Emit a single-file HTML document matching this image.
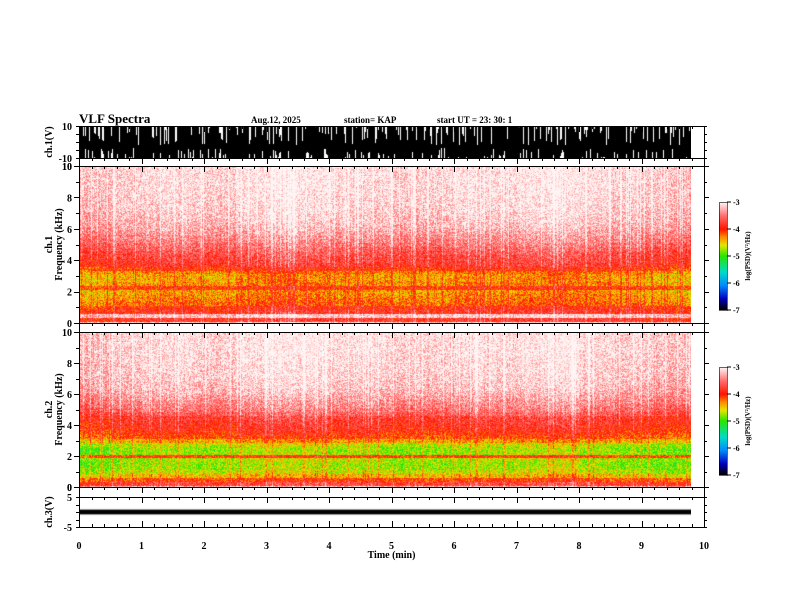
<!DOCTYPE html>
<html><head><meta charset="utf-8"><style>
html,body{margin:0;padding:0;background:#fff;}
#wrap{position:relative;width:792px;height:612px;overflow:hidden;font-family:"Liberation Serif",serif;}
canvas{position:absolute;}
svg{position:absolute;left:0;top:0;}
text{font-family:"Liberation Serif",serif;font-weight:bold;fill:#000;}
</style></head><body>
<div id="wrap">
<canvas id="c1" style="left:79px;top:126px" width="612" height="32"></canvas>
<canvas id="s1" style="left:79px;top:166px" width="612" height="157"></canvas>
<canvas id="s2" style="left:79px;top:332px" width="612" height="155"></canvas>
<canvas id="c3" style="left:79px;top:497px" width="612" height="30"></canvas>
<canvas id="cb1" style="left:719px;top:202px" width="8" height="108"></canvas>
<canvas id="cb2" style="left:719px;top:367px" width="8" height="108"></canvas>
<svg id="ax" width="792" height="612"></svg>
</div>
<script>
// ---- data ----
const timeTicks = [0,1,2,3,4,5,6,7,8,9,10];
const freqTicks = [0,2,4,6,8,10];
const cbTicks = [-3,-4,-5,-6,-7];
const durationMin = 9.8;
// mean log PSD profile per 0.25 kHz bin (0..10 kHz)
const ch1Profile = [-3.2,-3.9,-3.2,-3.9,-4.0,-4.25,-4.3,-4.35,-4.4,-4.05,-4.35,-4.4,-4.4,-4.3,-4.05,-3.85,-3.8,-3.75,-3.7,-3.62,-3.55,-3.48,-3.42,-3.36,-3.3,-3.26,-3.22,-3.2,-3.18,-3.16,-3.15,-3.14,-3.13,-3.12,-3.11,-3.1,-3.1,-3.1,-3.1,-3.1,-3.1];
const ch2Profile = [-3.3,-3.8,-4.15,-4.5,-4.7,-4.8,-4.82,-4.75,-4.1,-4.8,-4.82,-4.7,-4.4,-4.15,-4.05,-3.95,-3.9,-3.85,-3.8,-3.65,-3.55,-3.48,-3.42,-3.36,-3.3,-3.26,-3.22,-3.2,-3.18,-3.16,-3.15,-3.14,-3.13,-3.12,-3.11,-3.1,-3.1,-3.1,-3.1,-3.1,-3.1];
// time modulation per 0.5 min (positive = weaker / lighter)
const timeMod = [-0.1,0.0,0.05,0.05,0.0,0.1,0.15,0.1,0.05,0.05,0.0,0.0,0.05,0.05,0.1,0.15,0.05,0.0,-0.05,-0.1];
// ch1 waveform activity (fraction of white gaps) per 0.5 min
const ch1Activity = [0.35,0.25,0.3,0.25,0.3,0.3,0.25,0.35,0.25,0.3,0.3,0.35,0.3,0.25,0.3,0.25,0.3,0.25,0.3,0.3];
const ch3Level = 0.0, ch3Half = 0.8;

// ---- scales ----
const X0=79,X1=704;
const xs = t => X0 + (t/10)*(X1-X0);
function hash(a,b){let h=(a*374761393+b*668265263)|0;h=(h^(h>>>13))*1274126177|0;h=h^(h>>>16);return ((h>>>0)%10000)/10000;}
const stops=[[-7,0,0,0],[-6.6,0,0,190],[-6.1,0,140,255],[-5.6,0,220,200],[-5.0,40,230,0],[-4.6,230,230,0],[-4.3,255,140,0],[-4.0,255,20,0],[-3.5,255,110,110],[-3.0,255,245,245]];
function cmap(v){if(v<=-7)return stops[0].slice(1);if(v>=-3)return stops[stops.length-1].slice(1);
 for(let i=1;i<stops.length;i++){if(v<=stops[i][0]){const a=stops[i-1],b=stops[i],f=(v-a[0])/(b[0]-a[0]);return [a[1]+f*(b[1]-a[1]),a[2]+f*(b[2]-a[2]),a[3]+f*(b[3]-a[3])];}}}

function drawSpec(id,profile,seed){
 const c=document.getElementById(id),ctx=c.getContext('2d'),W=c.width,H=c.height;
 const img=ctx.createImageData(W,H);
 const colW=xs(durationMin)-X0;
 for(let x=0;x<W;x++){
  const t=x/ (X1-X0)*10; const ti=Math.min(timeMod.length-1,Math.floor(t/0.5));
  const colN=hash(x,seed)>0.88?0.3:(hash(x,seed+7)-0.5)*0.15;
  for(let y=0;y<H;y++){
   const f=(1-y/H)*10; const fi=Math.min(profile.length-1,Math.round(f/0.25));
   let v=profile[fi]+timeMod[ti]+colN+(hash(x+seed*31,y)-0.5)*0.6;
   const p=(y*W+x)*4;
   if(x>=colW){img.data[p]=img.data[p+1]=img.data[p+2]=255;img.data[p+3]=255;continue;}
   const col=cmap(v);img.data[p]=col[0];img.data[p+1]=col[1];img.data[p+2]=col[2];img.data[p+3]=255;
  }}
 ctx.putImageData(img,0,0);
}
drawSpec('s1',ch1Profile,3);
drawSpec('s2',ch2Profile,11);

(function(){const c=document.getElementById('c1'),ctx=c.getContext('2d');ctx.fillStyle='#000';
 const W=xs(durationMin)-X0;
 for(let x=0;x<W;x++){const t=x/(X1-X0)*10;const a=ch1Activity[Math.min(19,Math.floor(t/0.5))];
  let top=0,bot=32;
  if(hash(x,5)<a) top=Math.floor(hash(x,6)*20);
  if(hash(x,8)<a*0.7) bot=32-Math.floor(hash(x,9)*11);
  ctx.fillRect(x,top,1,Math.max(0,bot-top));}
})();
(function(){const c=document.getElementById('c3'),ctx=c.getContext('2d');ctx.fillStyle='#000';
 const y=v=>(5-v)/10*30;const W=xs(durationMin)-X0;
 ctx.fillRect(0,y(ch3Level+ch3Half),W,y(ch3Level-ch3Half)-y(ch3Level+ch3Half));})();
['cb1','cb2'].forEach(id=>{const c=document.getElementById(id),ctx=c.getContext('2d');
 for(let y=0;y<108;y++){const col=cmap(-3-4*y/107);ctx.fillStyle=`rgb(${col[0]|0},${col[1]|0},${col[2]|0})`;ctx.fillRect(0,y,8,1);}});

// ---- axes ----
const svg=document.getElementById('ax');const NS='http://www.w3.org/2000/svg';
function el(tag,attrs,txt){const e=document.createElementNS(NS,tag);for(const k in attrs)e.setAttribute(k,attrs[k]);if(txt!==undefined)e.textContent=txt;svg.appendChild(e);return e;}
function line(x1,y1,x2,y2,w){return el('line',{x1,y1,x2,y2,stroke:'#000','stroke-width':w||1});}
const hl=[126,158,166,323,332,487,497,527];
hl.forEach(y=>{const l=line(X0,y+0.5,X1,y+0.5);});
line(X0+0.5,126,X0+0.5,527);line(X1+0.5,126,X1+0.5,527);
[[158,1],[323,1],[487,1],[527,-1],[126,1],[332,1],[166,1],[497,1]].forEach(([y,d])=>{
 for(let i=0;i<=50;i++){const t=i*0.2;const x=Math.round(xs(t))+0.5;const len=(i%5===0)?6:3;
  line(x,y,x,y+d*len);}});
timeTicks.forEach(t=>{const e=el('text',{x:xs(t),y:549,'font-size':10,'text-anchor':'middle'},t);
 });
const xt=el('text',{x:xs(5),y:558,'font-size':10,'text-anchor':'middle'},'Time (min)');

function specAxis(top,bot,name,cbTop){
 for(let f=0;f<=10;f+=1){const y=Math.round(bot-(f/10)*(bot-top))+0.5;const len=f%2===0?5:3;
  line(X0-len,y,X0,y);line(X1,y,X1+len,y);}
 freqTicks.forEach(f=>{const e=el('text',{x:72,y:bot-(f/10)*(bot-top)+4,'font-size':10,'text-anchor':'end'},f);
  });
 const cy=(top+bot)/2;
 const t=el('text',{transform:`translate(52,${cy}) rotate(-90)`,'font-size':10,'text-anchor':'middle'},name);
 
 const t2=el('text',{transform:`translate(62,${cy}) rotate(-90)`,'font-size':10,'text-anchor':'middle'},'Frequency (kHz)');
 
 el('rect',{x:719.5,y:cbTop+0.5,width:8,height:108,fill:'none',stroke:'#000','stroke-width':0.6});
 cbTicks.forEach((v,i)=>{const y=cbTop+(-3-v)/4*108;line(727,y,731,y);
  const e=el('text',{x:733,y:y+3,'font-size':8},v);});
 const ct=el('text',{transform:`translate(750,${cbTop+54}) rotate(-90)`,'font-size':7,'text-anchor':'middle'},'log(PSD)(V²/Hz)');
 
}
specAxis(166,323,'ch.1',202);
specAxis(332,487,'ch.2',367);
[[126,158,'10','-10','ch.1(V)'],[497,527,'5','-5','ch.3(V)']].forEach(([a,b,hi,lo,n])=>{
 el('text',{x:72,y:a+4,'font-size':10,'text-anchor':'end'},hi);
 el('text',{x:72,y:b+4,'font-size':10,'text-anchor':'end'},lo);
 for(let i=0;i<=4;i++){const y=Math.round(a+i*(b-a)/4)+0.5;line(X0-3,y,X0,y);line(X1,y,X1+3,y);}
 const t=el('text',{transform:`translate(52,${(a+b)/2}) rotate(-90)`,'font-size':10,'text-anchor':'middle'},n);
 
});
el('text',{x:72,y:491,'font-size':10,'text-anchor':'end'},'0');
el('text',{x:72,y:170,'font-size':10,'text-anchor':'end'},'10');
const h=el('text',{x:79,y:123,'font-size':13},'VLF Spectra');
const d=el('text',{x:251,y:123,'font-size':9},'Aug.12, 2025');
const s=el('text',{x:344,y:123,'font-size':9},'station= KAP');
const u=el('text',{x:437,y:123,'font-size':9,'xml:space':'preserve'},'start  UT  =    23: 30: 1');
</script>
</body></html>
